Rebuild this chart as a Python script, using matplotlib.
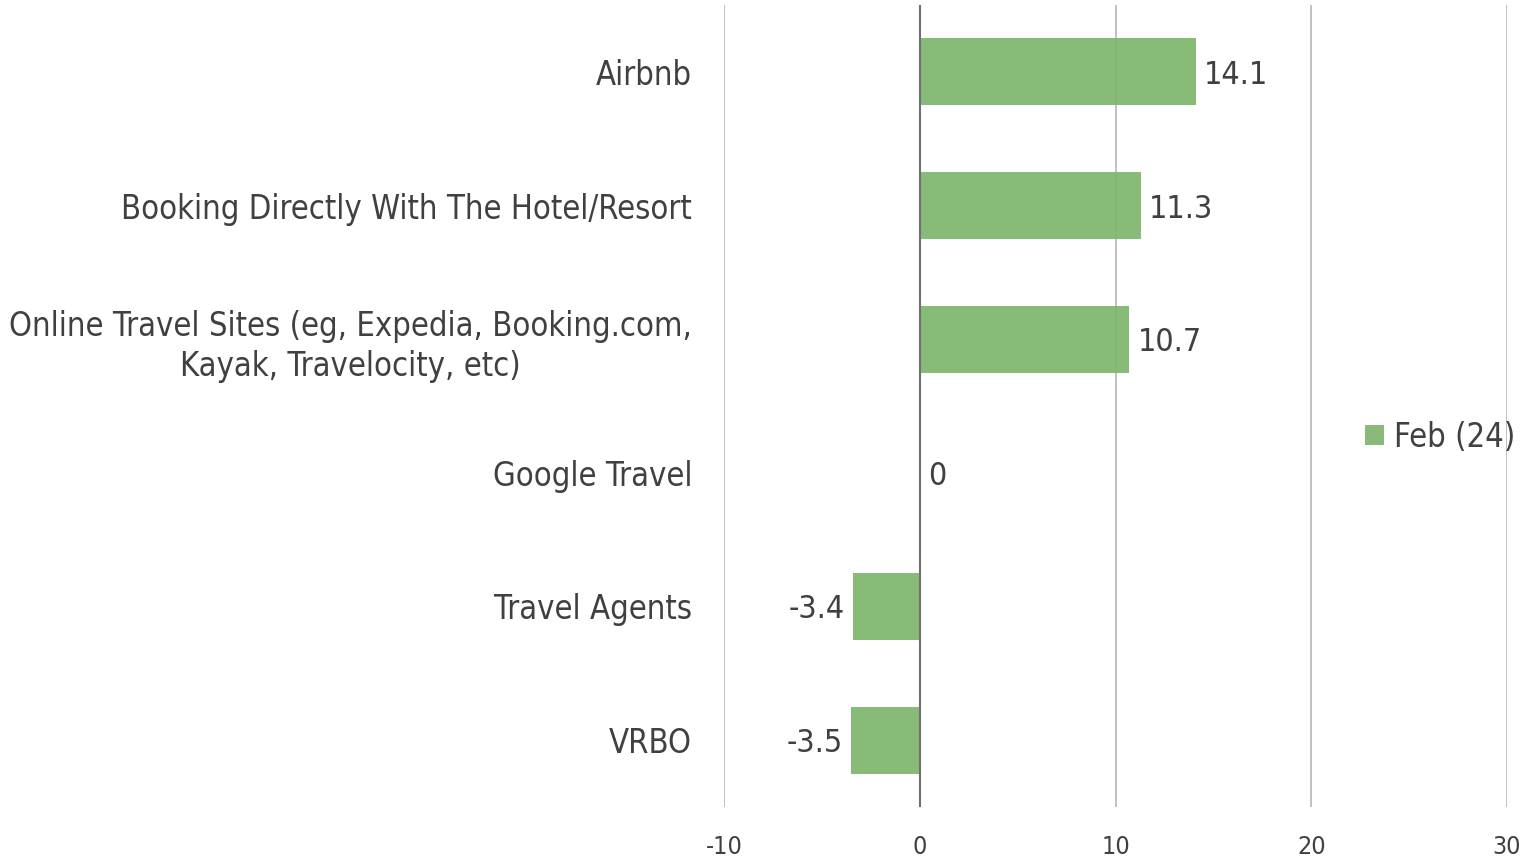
import numpy as np
import matplotlib
matplotlib.use("Agg")
import matplotlib.pyplot as plt
from matplotlib.patches import Patch

# data
categories = [
    "Airbnb",
    "Booking Directly With The Hotel/Resort",
    "Online Travel Sites (eg, Expedia, Booking.com,\nKayak, Travelocity, etc)",
    "Google Travel",
    "Travel Agents",
    "VRBO",
]
values = [14.1, 11.3, 10.7, 0, -3.4, -3.5]
value_labels = ["14.1", "11.3", "10.7", "0", "-3.4", "-3.5"]
x_ticks = [-10, 0, 10, 20, 30]
series_name = "Feb (24)"

bar_color = "#7EB56B"
text_color = "#404040"

plt.rcParams["font.family"] = ["DejaVu Sans"]
plt.rcParams["font.stretch"] = "condensed"

fig = plt.figure(figsize=(15.36, 8.61), dpi=100)
ax = fig.add_axes([724 / 1536, 1 - 807 / 861, (1507 - 724) / 1536, (807 - 5) / 861])

y = np.arange(len(categories))
ax.barh(y, values, height=0.5, color=bar_color, alpha=0.92, zorder=2)

ax.set_xlim(-10, 30)
ax.set_ylim(len(categories) - 0.5, -0.5)
ax.set_xticks(x_ticks)
ax.set_xticklabels([str(t) for t in x_ticks])
ax.set_yticks(y)
ax.set_yticklabels(categories, multialignment="center", linespacing=1.27)

ax.tick_params(axis="x", length=0, pad=20, labelsize=18, labelcolor=text_color)
ax.tick_params(axis="y", length=0, pad=23, labelsize=23.5, labelcolor=text_color)

for s in ax.spines.values():
    s.set_visible(False)

ax.grid(axis="x", color="#b0b0b0", linewidth=1.1, zorder=0)
ax.set_axisbelow(True)
ax.axvline(0, color="#707070", linewidth=1.5, zorder=3)

for yi, v, lab in zip(y, values, value_labels):
    if v < 0:
        ax.annotate(lab, (v, yi), xytext=(-6, 0), textcoords="offset points",
                    ha="right", va="center_baseline", fontsize=23, color=text_color)
    else:
        ax.annotate(lab, (v, yi), xytext=(6, 0), textcoords="offset points",
                    ha="left", va="center_baseline", fontsize=23, color=text_color)

handle = Patch(facecolor=bar_color, alpha=0.92)
fig.legend([handle], [series_name], loc="center left",
           bbox_to_anchor=(1349 / 1536, 1 - 437 / 861), frameon=False,
           fontsize=23.5, labelcolor=text_color, handlelength=0.58,
           handleheight=0.58, handletextpad=0.3, borderpad=0)

fig.savefig("out.png", dpi=100)
